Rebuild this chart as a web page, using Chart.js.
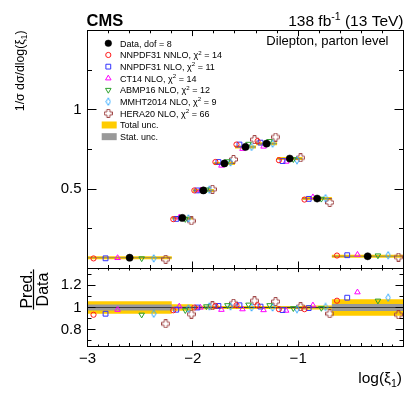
<!DOCTYPE html>
<html>
<head>
<meta charset="utf-8">
<script src="https://cdn.jsdelivr.net/npm/chart.js@4.4.1/dist/chart.umd.min.js"></script>
<style>
  html, body { margin: 0; padding: 0; background: #fff; }
  #wrap { position: relative; width: 407px; height: 394px; overflow: hidden; background: #fff; }
  canvas { position: absolute; left: 0; }
  #topPanel { top: 0; }
  #ratioPanel { top: 268px; }
  #frames { top: 0; pointer-events: none; }
</style>
</head>
<body>
<div id="wrap">
  <canvas id="topPanel" width="407" height="270"></canvas>
  <canvas id="ratioPanel" width="407" height="126"></canvas>
  <canvas id="frames" width="407" height="394"></canvas>
</div>
<script>
// log(xi_1) binning and normalised cross section
const binEdges = [-3, -2.2, -2.0, -1.8, -1.6, -1.4, -1.2, -0.96, -0.68, 0];
const dataValues = [0.068, 0.319, 0.492, 0.662, 0.766, 0.787, 0.693, 0.441, 0.077];
const totalUnc = [0.057, 0.030, 0.015, 0.014, 0.013, 0.013, 0.014, 0.017, 0.075]; // relative
const statUnc = [0.027, 0.010, 0.006, 0.005, 0.005, 0.005, 0.006, 0.007, 0.032];  // relative
const dataDof = 8;

// prediction / data
const ratioNNPDF31NNLO = [0.935, 0.975, 1.000, 1.014, 1.020, 1.020, 0.985, 0.985, 1.061];
const ratioNNPDF31NLO  = [0.944, 0.980, 1.000, 1.014, 1.020, 1.008, 0.977, 0.995, 1.088];
const ratioCT14NLO     = [0.980, 1.010, 1.000, 0.980, 0.985, 0.977, 0.972, 1.020, 1.137];
const ratioABMP16NLO   = [0.935, 0.975, 1.010, 1.020, 1.025, 1.020, 0.993, 0.995, 1.061];
const ratioMMHT2014NLO = [0.944, 0.990, 1.010, 1.010, 1.000, 1.000, 0.985, 1.005, 1.088];
const ratioHERA20NLO   = [0.854, 0.940, 1.015, 1.038, 1.060, 1.053, 1.007, 0.944, 0.935];

const modelNames = ['NNPDF31 NNLO', 'NNPDF31 NLO', 'CT14 NLO', 'ABMP16 NLO', 'MMHT2014 NLO', 'HERA20 NLO'];
const modelChi2 = [14, 11, 14, 12, 9, 66];
const modelRatios = [ratioNNPDF31NNLO, ratioNNPDF31NLO, ratioCT14NLO, ratioABMP16NLO, ratioMMHT2014NLO, ratioHERA20NLO];

const yTopTickLabels = ['0.5', '1'];
const yRatioTickLabels = ['0.8', '1', '1.2'];
const xTickLabels = ['\u22123', '\u22122', '\u22121'];

const FONT = '"Liberation Sans", Arial, Helvetica, sans-serif';
const GOLD = '#ffcc00';
const GREY = '#999999';

function markerCanvas(w, h, draw) {
  const c = document.createElement('canvas');
  c.width = w; c.height = h;
  draw(c.getContext('2d'));
  return c;
}
const diamondImg = markerCanvas(6, 9, g => {
  g.strokeStyle = '#33aaff'; g.lineWidth = 1;
  g.beginPath();
  g.moveTo(3, 0.8); g.lineTo(5.2, 4.5); g.lineTo(3, 8.2); g.lineTo(0.8, 4.5); g.closePath();
  g.stroke();
});
const crossImg = markerCanvas(9, 9, g => {
  g.strokeStyle = '#a04848'; g.lineWidth = 1;
  const p = [[3, 0.5], [6, 0.5], [6, 3], [8.5, 3], [8.5, 6], [6, 6], [6, 8.5], [3, 8.5], [3, 6], [0.5, 6], [0.5, 3], [3, 3]];
  g.beginPath();
  p.forEach((q, i) => i ? g.lineTo(q[0], q[1]) : g.moveTo(q[0], q[1]));
  g.closePath();
  g.stroke();
});

// marker styles, slot = position inside the bin in units of width/7
const modelStyles = [
  { color: '#ff1a1a', pointStyle: 'circle', radius: 2.6, rotation: 0, slot: -3 },
  { color: '#3333ff', pointStyle: 'rect', radius: 3.4, rotation: 0, slot: -2 },
  { color: '#ff00ff', pointStyle: 'triangle', radius: 3.2, rotation: 0, slot: -1 },
  { color: '#2ca02c', pointStyle: 'triangle', radius: 3.2, rotation: 180, slot: 1 },
  { color: '#33aaff', pointStyle: diamondImg, radius: 3, rotation: 0, slot: 2 },
  { color: '#a04848', pointStyle: crossImg, radius: 3, rotation: 0, slot: 3 }
];

const binCenter = i => (binEdges[i] + binEdges[i + 1]) / 2;
const binWidth = i => binEdges[i + 1] - binEdges[i];

function pieces(vals) {
  const pts = [];
  vals.forEach((v, i) => {
    pts.push({ x: binEdges[i], y: v }, { x: binEdges[i + 1], y: v }, { x: binEdges[i + 1], y: null });
  });
  return pts;
}
function steps(vals) {
  return binEdges.map((e, i) => ({ x: e, y: vals[Math.min(i, vals.length - 1)] }));
}
function tickLabel(labels) {
  return v => labels.find(l => Math.abs(parseFloat(l.replace('\u2212', '-')) - v) < 1e-6) || '';
}

function richText(ctx, parts, x, y, size, align) {
  let w = 0;
  const items = parts.map(([t, m]) => {
    const s = m ? size * 0.68 : size;
    ctx.font = s + 'px ' + FONT;
    const pw = ctx.measureText(t).width;
    w += pw;
    return { t, m, s, pw };
  });
  let cx = align === 'right' ? x - w : align === 'center' ? x - w / 2 : x;
  ctx.textAlign = 'left';
  ctx.textBaseline = 'alphabetic';
  items.forEach(p => {
    ctx.font = p.s + 'px ' + FONT;
    const dy = p.m === 1 ? -size * 0.4 : p.m === -1 ? size * 0.28 : 0;
    ctx.fillText(p.t, cx, y + dy);
    cx += p.pw;
  });
  return w;
}

// frame plus inward ticks on all four sides, ROOT style, drawn on the overlay
function drawFrame(chart, offsetY, o) {
  const ctx = document.getElementById('frames').getContext('2d');
  const { chartArea: a, scales } = chart;
  const xs = scales.x, ys = scales.y;
  ctx.save();
  ctx.translate(0, offsetY);
  ctx.strokeStyle = '#000';
  ctx.lineWidth = 1;
  ctx.beginPath();
  ys.ticks.forEach(t => {
    const v = t.value;
    if (v <= ys.min + 1e-9 || v >= ys.max - 1e-9) return;
    const py = Math.floor(ys.getPixelForValue(v)) + 0.5;
    const len = t.label ? o.yMajor : o.yMinor;
    ctx.moveTo(a.left, py); ctx.lineTo(a.left + len, py);
    ctx.moveTo(a.right, py); ctx.lineTo(a.right - len, py);
  });
  for (let k = Math.round(xs.min * 10) + 1; k < Math.round(xs.max * 10); k++) {
    const len = k % 10 === 0 ? o.xMajor : k % 2 === 0 ? o.xMid : o.xMinor;
    if (!len) continue;
    const px = Math.floor(xs.getPixelForValue(k / 10)) + 0.5;
    ctx.moveTo(px, a.bottom); ctx.lineTo(px, a.bottom - len);
    ctx.moveTo(px, a.top); ctx.lineTo(px, a.top + o.topScale * len);
  }
  ctx.stroke();
  ctx.strokeRect(a.left, a.top, a.right - a.left, a.bottom - a.top);
  ctx.restore();
}

function modelDatasets(yFor) {
  return modelStyles.map((st, m) => ({
    type: 'scatter',
    label: modelNames[m],
    data: dataValues.map((d, i) => ({ x: binCenter(i) + st.slot * binWidth(i) / 7, y: yFor(d, modelRatios[m][i]) })),
    pointStyle: st.pointStyle,
    pointRadius: st.radius,
    pointRotation: st.rotation,
    pointBorderColor: st.color,
    pointBackgroundColor: 'rgba(0,0,0,0)',
    pointBorderWidth: 1,
    showLine: false
  }));
}
function stepBand(upper, lower, color) {
  return [
    { type: 'line', data: upper, borderColor: 'rgba(0,0,0,0)', borderWidth: 1, pointRadius: 0, fill: false, stepped: true },
    { type: 'line', data: lower, borderColor: 'rgba(0,0,0,0)', borderWidth: 1, pointRadius: 0, fill: '-1', backgroundColor: color, stepped: true }
  ];
}

const common = {
  responsive: false,
  animation: false,
  devicePixelRatio: 1,
  events: [],
  plugins: { legend: { display: false }, tooltip: { enabled: false } }
};

// ---------- top panel ----------
const topDatasets = [
  {
    type: 'scatter',
    label: 'Data',
    data: dataValues.map((v, i) => ({ x: binCenter(i), y: v })),
    pointStyle: 'circle',
    pointRadius: 3.6,
    pointBackgroundColor: '#000',
    pointBorderColor: '#000',
    pointBorderWidth: 0.5
  },
  ...modelDatasets((d, r) => d * r),
  { type: 'line', data: pieces(dataValues), borderColor: 'rgba(120,120,110,0.75)', borderWidth: 1, pointRadius: 0, fill: false, spanGaps: false },
  { type: 'line', data: pieces(dataValues), borderColor: GOLD, borderWidth: 3, pointRadius: 0, fill: false, spanGaps: false }
];

const topTexts = {
  id: 'topTexts',
  afterDraw(chart) {
    const ctx = chart.ctx;
    ctx.save();
    ctx.fillStyle = '#000';
    ctx.font = 'bold 16.5px ' + FONT;
    ctx.textAlign = 'left';
    ctx.textBaseline = 'alphabetic';
    ctx.fillText('CMS', 86.5, 26);
    richText(ctx, [['138 fb', 0], ['-1', 1], [' (13 TeV)', 0]], 403.5, 26, 15.5, 'right');
    richText(ctx, [['Dilepton, parton level', 0]], 388.5, 44.8, 13, 'right');

    // y title
    ctx.save();
    ctx.translate(23.5, 30.5);
    ctx.rotate(-Math.PI / 2);
    richText(ctx, [['1/\u03c3 d\u03c3/dlog(\u03be', 0], ['1', -1], [')', 0]], 0, 0, 12.3, 'right');
    ctx.restore();

    // legend
    const mx = 108.3, tx = 120, y0 = 43.3, dy = 11.67, fs = 9;
    const H = Chart.helpers;
    ctx.fillStyle = '#000';
    ctx.strokeStyle = '#000';
    ctx.lineWidth = 0.5;
    H.drawPoint(ctx, { pointStyle: 'circle', radius: 3.3, rotation: 0, borderWidth: 0.5 }, mx, y0);
    richText(ctx, [['Data, dof = ' + dataDof, 0]], tx, y0 + 3.3, fs, 'left');
    modelStyles.forEach((st, m) => {
      const y = y0 + (m + 1) * dy;
      ctx.strokeStyle = st.color;
      ctx.fillStyle = 'rgba(0,0,0,0)';
      ctx.lineWidth = 1;
      H.drawPoint(ctx, { pointStyle: st.pointStyle, radius: st.radius, rotation: st.rotation, borderWidth: 1 }, mx, y);
      ctx.fillStyle = '#000';
      richText(ctx, [[modelNames[m] + ', \u03c7', 0], ['2', 1], [' = ' + modelChi2[m], 0]], tx, y + 3.3, fs, 'left');
    });
    ctx.fillStyle = GOLD;
    ctx.fillRect(101.7, y0 + 7 * dy - 3.5, 15, 7);
    ctx.fillStyle = GREY;
    ctx.fillRect(101.7, y0 + 8 * dy - 3.5, 15, 7);
    ctx.fillStyle = '#000';
    richText(ctx, [['Total unc.', 0]], tx, y0 + 7 * dy + 3.3, fs, 'left');
    richText(ctx, [['Stat. unc.', 0]], tx, y0 + 8 * dy + 3.3, fs, 'left');
    ctx.restore();
  }
};

const topChart = new Chart(document.getElementById('topPanel'), {
  type: 'scatter',
  data: { datasets: topDatasets },
  options: {
    ...common,
    layout: { autoPadding: false, padding: { top: 30.5, bottom: 1.5, left: 0, right: 3.5 } },
    scales: {
      x: { type: 'linear', min: -3, max: 0, display: false },
      y: {
        type: 'linear', min: 0, max: 1.5,
        grid: { display: false, drawTicks: false },
        border: { display: false },
        afterFit: s => { s.width = 87.5; s.paddingTop = 0; s.paddingBottom = 0; },
        ticks: {
          stepSize: 0.25, autoSkip: false, padding: 6, color: '#000',
          font: { family: FONT, size: 15 },
          callback: tickLabel(yTopTickLabels)
        }
      }
    }
  },
  plugins: [topTexts]
});

// ---------- ratio panel ----------
const ratioDatasets = [
  ...modelDatasets((d, r) => r),
  { type: 'line', data: steps(dataValues.map(() => 1)), borderColor: '#3a3a3a', borderWidth: 1, pointRadius: 0, fill: false },
  ...stepBand(steps(statUnc.map(u => 1 + u)), steps(statUnc.map(u => 1 - u)), GREY),
  ...stepBand(steps(totalUnc.map(u => 1 + u)), steps(totalUnc.map(u => 1 - u)), GOLD)
];

const ratioTexts = {
  id: 'ratioTexts',
  afterDraw(chart) {
    const ctx = chart.ctx;
    ctx.save();
    ctx.fillStyle = '#000';
    // Pred./Data fraction
    ctx.save();
    ctx.translate(33.5, 21.5);
    ctx.rotate(-Math.PI / 2);
    ctx.font = '16px ' + FONT;
    const w1 = ctx.measureText('Pred.').width;
    const w2 = ctx.measureText('Data').width;
    ctx.textAlign = 'center';
    ctx.textBaseline = 'alphabetic';
    ctx.fillText('Pred.', 0, -2);
    ctx.fillText('Data', 0, 14.5);
    ctx.fillRect(-Math.max(w1, w2) / 2 - 1, -0.6, Math.max(w1, w2) + 2, 1.2);
    ctx.restore();
    // x title
    richText(ctx, [['log(\u03be', 0], ['1', -1], [')', 0]], 402, 114.5, 15.5, 'right');
    ctx.restore();
  }
};

const ratioChart = new Chart(document.getElementById('ratioPanel'), {
  type: 'scatter',
  data: { datasets: ratioDatasets },
  options: {
    ...common,
    layout: { autoPadding: false, padding: { top: 0.5, bottom: 0, left: 0, right: 3.5 } },
    scales: {
      x: {
        type: 'linear', min: -3, max: 0,
        grid: { display: false, drawTicks: false },
        border: { display: false },
        afterFit: s => { s.height = 47.5; s.paddingLeft = 0; s.paddingRight = 0; },
        ticks: {
          stepSize: 1, autoSkip: false, maxRotation: 0, padding: 3, color: '#000',
          font: { family: FONT, size: 15 },
          callback: tickLabel(xTickLabels)
        }
      },
      y: {
        type: 'linear', min: 0.65, max: 1.35,
        grid: { display: false, drawTicks: false },
        border: { display: false },
        afterFit: s => { s.width = 87.5; s.paddingTop = 0; s.paddingBottom = 0; },
        afterBuildTicks: s => {
          const t = [];
          for (let k = Math.ceil(s.min * 10); k <= Math.floor(s.max * 10); k++) t.push({ value: k / 10 });
          s.ticks = t;
        },
        ticks: {
          autoSkip: false, padding: 6, color: '#000',
          font: { family: FONT, size: 15 },
          callback: tickLabel(yRatioTickLabels)
        }
      }
    }
  },
  plugins: [ratioTexts]
});

drawFrame(topChart, 0, { yMajor: 9, yMinor: 4.5, xMajor: 7, xMid: 3.5, xMinor: 0, topScale: 0.8 });
drawFrame(ratioChart, 268, { yMajor: 8, yMinor: 4, xMajor: 6, xMid: 3.5, xMinor: 2, topScale: 0.6 });
</script>
</body>
</html>
